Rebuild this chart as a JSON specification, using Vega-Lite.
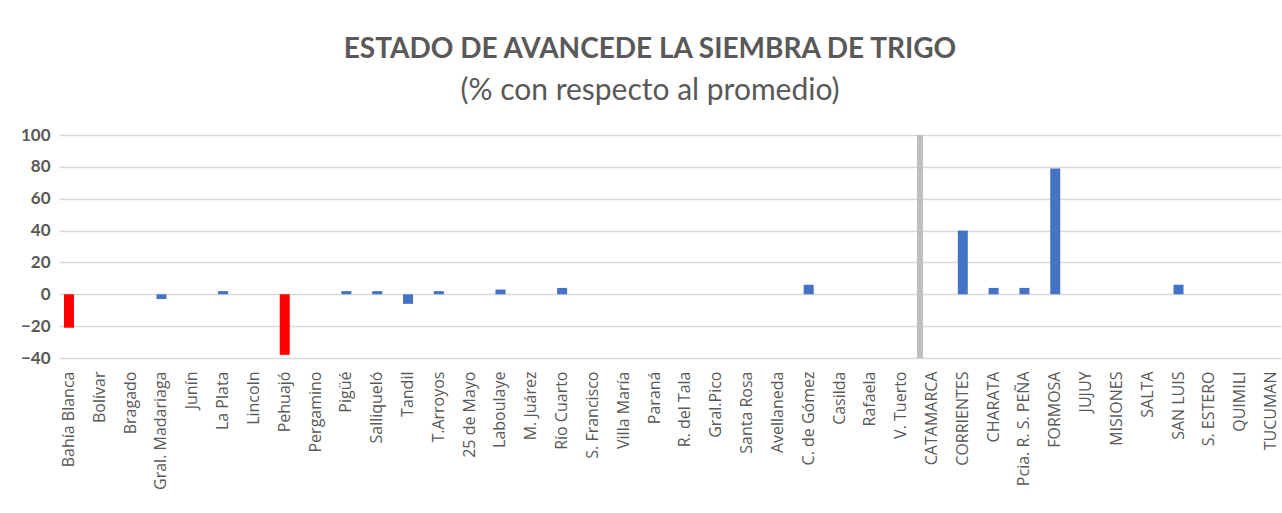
{
  "$schema": "https://vega.github.io/schema/vega-lite/v6.json",
  "width": 1222,
  "height": 223,
  "autosize": {"type": "none"},
  "padding": {"left": 59, "top": 135, "right": 1, "bottom": 155},
  "background": "white",
  "title": {
    "text": "ESTADO DE AVANCEDE LA SIEMBRA DE TRIGO",
    "subtitle": "(% con respecto al promedio)",
    "anchor": "middle",
    "frame": "group",
    "dx": -20,
    "offset": 20,
    "font": "Lato",
    "fontSize": 28,
    "fontWeight": "bold",
    "color": "#595959",
    "subtitleFont": "Lato",
    "subtitleFontSize": 30,
    "subtitleColor": "#595959",
    "subtitlePadding": 12
  },
  "data": {
    "values": [
      {"lugar": "Bahía Blanca", "valor": -21, "grupo": "bajo"},
      {"lugar": "Bolívar", "valor": 0, "grupo": "normal"},
      {"lugar": "Bragado", "valor": 0, "grupo": "normal"},
      {"lugar": "Gral. Madariaga", "valor": -3, "grupo": "normal"},
      {"lugar": "Junín", "valor": 0, "grupo": "normal"},
      {"lugar": "La Plata", "valor": 2, "grupo": "normal"},
      {"lugar": "Lincoln", "valor": 0, "grupo": "normal"},
      {"lugar": "Pehuajó", "valor": -38, "grupo": "bajo"},
      {"lugar": "Pergamino", "valor": 0, "grupo": "normal"},
      {"lugar": "Pigüé", "valor": 2, "grupo": "normal"},
      {"lugar": "Salliqueló", "valor": 2, "grupo": "normal"},
      {"lugar": "Tandil", "valor": -6, "grupo": "normal"},
      {"lugar": "T.Arroyos", "valor": 2, "grupo": "normal"},
      {"lugar": "25 de Mayo", "valor": 0, "grupo": "normal"},
      {"lugar": "Laboulaye", "valor": 3, "grupo": "normal"},
      {"lugar": "M. Juárez", "valor": 0, "grupo": "normal"},
      {"lugar": "Río Cuarto", "valor": 4, "grupo": "normal"},
      {"lugar": "S. Francisco", "valor": 0, "grupo": "normal"},
      {"lugar": "Villa María", "valor": 0, "grupo": "normal"},
      {"lugar": "Paraná", "valor": 0, "grupo": "normal"},
      {"lugar": "R. del Tala", "valor": 0, "grupo": "normal"},
      {"lugar": "Gral.Pico", "valor": 0, "grupo": "normal"},
      {"lugar": "Santa Rosa", "valor": 0, "grupo": "normal"},
      {"lugar": "Avellaneda", "valor": 0, "grupo": "normal"},
      {"lugar": "C. de Gómez", "valor": 6, "grupo": "normal"},
      {"lugar": "Casilda", "valor": 0, "grupo": "normal"},
      {"lugar": "Rafaela", "valor": 0, "grupo": "normal"},
      {"lugar": "V. Tuerto", "valor": 0, "grupo": "normal"},
      {"lugar": "CATAMARCA", "valor": 0, "grupo": "normal"},
      {"lugar": "CORRIENTES", "valor": 40, "grupo": "normal"},
      {"lugar": "CHARATA", "valor": 4, "grupo": "normal"},
      {"lugar": "Pcia. R. S. PEÑA", "valor": 4, "grupo": "normal"},
      {"lugar": "FORMOSA", "valor": 79, "grupo": "normal"},
      {"lugar": "JUJUY", "valor": 0, "grupo": "normal"},
      {"lugar": "MISIONES", "valor": 0, "grupo": "normal"},
      {"lugar": "SALTA", "valor": 0, "grupo": "normal"},
      {"lugar": "SAN LUIS", "valor": 6, "grupo": "normal"},
      {"lugar": "S. ESTERO", "valor": 0, "grupo": "normal"},
      {"lugar": "QUIMILI", "valor": 0, "grupo": "normal"},
      {"lugar": "TUCUMAN", "valor": 0, "grupo": "normal"}
    ]
  },
  "encoding": {
    "x": {
      "field": "lugar",
      "type": "nominal",
      "sort": null,
      "scale": {"paddingInner": 0.67, "paddingOuter": 0.16},
      "axis": {
        "title": null,
        "labelAngle": -90,
        "labelFont": "Open Sans",
        "labelFontSize": 16,
        "labelColor": "#595959",
        "labelPadding": 13,
        "labelOverlap": false,
        "labelLimit": 200,
        "ticks": false,
        "domain": false,
        "grid": false
      }
    }
  },
  "layer": [
    {
      "mark": {"type": "bar", "size": 10},
      "encoding": {
        "y": {
          "field": "valor",
          "type": "quantitative",
          "scale": {"domain": [-40, 100], "nice": false, "zero": false},
          "axis": {
            "title": null,
            "values": [-40, -20, 0, 20, 40, 60, 80, 100],
            "labelFont": "Lato",
            "labelFontSize": 17,
            "labelFontWeight": "bold",
            "labelColor": "#595959",
            "labelPadding": 9,
            "labelOverlap": false,
            "labelFlush": false,
            "ticks": false,
            "domain": false,
            "gridColor": "#d9d9d9",
            "gridWidth": 1.5
          }
        },
        "color": {
          "field": "grupo",
          "type": "nominal",
          "scale": {"domain": ["normal", "bajo"], "range": ["#4472C4", "#FF0000"]},
          "legend": null
        }
      }
    },
    {
      "transform": [{"filter": "datum.lugar === 'CATAMARCA'"}],
      "mark": {"type": "bar", "size": 6, "color": "#BFBFBF", "xOffset": -12},
      "encoding": {
        "y": {
          "datum": 100,
          "type": "quantitative",
          "axis": {
            "title": null,
            "values": [-40, -20, 0, 20, 40, 60, 80, 100],
            "labelFont": "Lato",
            "labelFontSize": 17,
            "labelFontWeight": "bold",
            "labelColor": "#595959",
            "labelPadding": 9,
            "labelOverlap": false,
            "labelFlush": false,
            "ticks": false,
            "domain": false,
            "gridColor": "#d9d9d9",
            "gridWidth": 1.5
          }
        },
        "y2": {"datum": -40}
      }
    }
  ],
  "config": {
    "view": {"stroke": null}
  }
}
